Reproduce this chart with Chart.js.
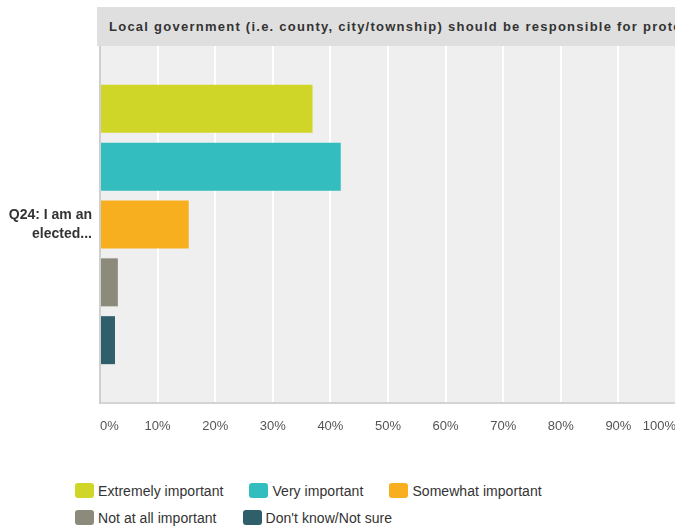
<!DOCTYPE html>
<html>
<head>
<meta charset="utf-8">
<script src="https://cdn.jsdelivr.net/npm/chart.js@4.4.1/dist/chart.umd.min.js"></script>
<style>
  html, body { margin: 0; padding: 0; background: #ffffff; overflow: hidden; width: 675px; height: 529px; }
  body { position: relative; font-family: "Liberation Sans", Arial, sans-serif; }
  #wrap { position: absolute; left: 0; top: 0; width: 700px; height: 460px; }
  #header { position: absolute; left: 97px; top: 7px; width: 620px; height: 39px; background: #dfdfdf;
            color: #333; font-weight: bold; font-size: 13px; line-height: 39px; padding-left: 12px;
            letter-spacing: 1.25px; white-space: nowrap; overflow: hidden; box-sizing: border-box; z-index: 2; }
  #legend { position: absolute; left: 75px; top: 483px; width: 600px; font-size: 14px; color: #333; letter-spacing: 0.05px; }
  .row { display: flex; height: 27px; align-items: flex-start; }
  .item { display: flex; align-items: center; margin-right: 26px; height: 15px; white-space: nowrap; }
  .box { width: 19px; height: 15px; border-radius: 3px; margin-right: 4px; flex: none; }
</style>
</head>
<body>
<div id="header"></div>
<div id="wrap"><canvas id="c"></canvas></div>
<div id="legend"></div>
<script>
const titleText = "Local government (i.e. county, city/township) should be responsible for protecting";
const categories = [["Q24: I am an", "elected..."]];
const seriesNames = ["Extremely important", "Very important", "Somewhat important", "Not at all important", "Don't know/Not sure"];
const seriesValues = [[36.9], [41.8], [15.4], [3.1], [2.6]];
const seriesColors = ["#d0d628", "#33bdbf", "#f7af20", "#8c8b7b", "#2f5f6b"];
const tickValues = [0, 10, 20, 30, 40, 50, 60, 70, 80, 90, 100];
const legendRows = [[0, 1, 2], [3, 4]];

document.getElementById('header').textContent = titleText;

const legend = document.getElementById('legend');
legendRows.forEach(r => {
  const row = document.createElement('div');
  row.className = 'row';
  r.forEach(i => {
    const it = document.createElement('div');
    it.className = 'item';
    const b = document.createElement('span');
    b.className = 'box';
    b.style.background = seriesColors[i];
    const t = document.createElement('span');
    t.textContent = seriesNames[i];
    it.appendChild(b); it.appendChild(t);
    row.appendChild(it);
  });
  legend.appendChild(row);
});

const plotBg = {
  id: 'plotBg',
  beforeDraw(chart) {
    const a = chart.chartArea, ctx = chart.ctx;
    ctx.save();
    ctx.fillStyle = '#efefef';
    ctx.fillRect(a.left, a.top, a.right - a.left, a.bottom - a.top);
    ctx.restore();
  }
};

new Chart(document.getElementById('c'), {
  type: 'bar',
  data: {
    labels: categories,
    datasets: seriesNames.map((n, i) => ({
      label: n,
      data: seriesValues[i],
      backgroundColor: seriesColors[i],
      borderWidth: 0,
      categoryPercentage: 0.81,
      barPercentage: 0.83
    }))
  },
  options: {
    indexAxis: 'y',
    responsive: true,
    maintainAspectRatio: false,
    animation: false,
    layout: { padding: { top: 46, right: 24, left: 0, bottom: 0 } },
    plugins: { legend: { display: false }, tooltip: { enabled: false }, title: { display: false } },
    scales: {
      x: {
        min: 0, max: 100,
        afterBuildTicks(scale) { scale.ticks = tickValues.map(v => ({ value: v })); },
        afterFit(scale) { scale.height = 57; },
        ticks: {
          callback: v => v + '%',
          align: 'inner',
          padding: 16,
          maxRotation: 0,
          autoSkip: false,
          color: '#555',
          font: { family: '"Liberation Sans", Arial, sans-serif', size: 13 }
        },
        grid: { color: '#ffffff', lineWidth: 2, drawTicks: false },
        border: { display: true, color: '#d4d4d4', width: 2 }
      },
      y: {
        afterFit(scale) { scale.width = 100; },
        ticks: {
          padding: 8,
          color: '#333',
          font: { family: '"Liberation Sans", Arial, sans-serif', size: 14, weight: 'bold', lineHeight: 1.4 }
        },
        grid: { display: false, drawTicks: false },
        border: { display: true, color: '#cfcfcf', width: 2 }
      }
    }
  },
  plugins: [plotBg]
});
</script>
</body>
</html>
